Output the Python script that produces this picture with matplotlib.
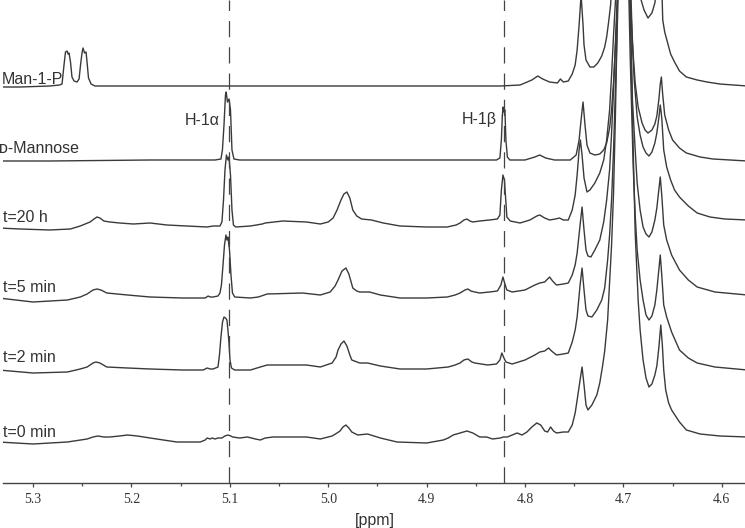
import matplotlib
matplotlib.use("Agg")
import matplotlib.pyplot as plt
from matplotlib.ticker import MultipleLocator, FormatStrFormatter

# 1H NMR traces: chemical shift (ppm) and
# intensity above each trace's own baseline (arbitrary units)

man1p_ppm = [5.335, 5.313, 5.283, 5.273, 5.2705, 5.2685, 5.2670, 5.2654, 5.2644, 5.2634,
             5.2619, 5.2604, 5.2583, 5.2553, 5.2532, 5.2517, 5.2502, 5.2492, 5.2476, 5.2461,
             5.2451, 5.2436, 5.2410, 5.2370, 5.181, 5.079, 4.978, 4.876, 4.825, 4.805,
             4.793, 4.787, 4.782, 4.775, 4.767, 4.764, 4.761, 4.756, 4.752, 4.749,
             4.747, 4.745, 4.743, 4.741, 4.740, 4.738, 4.734, 4.730, 4.726, 4.722,
             4.719, 4.717, 4.715, 4.713, 4.709, 4.698, 4.687, 4.682, 4.679, 4.675,
             4.671, 4.668, 4.665, 4.662, 4.660, 4.658, 4.655, 4.652, 4.648, 4.643,
             4.636, 4.625, 4.615, 4.602, 4.574]
man1p_int = [0, 0, 1, 2, 3, 22, 35, 36, 33, 34,
             25, 10, 6, 5, 8, 22, 34, 39, 34, 35,
             25, 9, 3, 1, 1, 1, 1, 1, 1, 2,
             7, 11, 8, 5, 4, 8, 5, 6, 13, 22,
             37, 62, 92, 62, 42, 27, 20, 20, 24, 31,
             40, 50, 65, 82, 147, 587, 127, 87, 77, 69,
             74, 84, 107, 137, 67, 55, 44, 33, 25, 16,
             10, 7, 5, 3, 1]

mannose_ppm = [5.335, 5.283, 5.181, 5.115, 5.109, 5.1075, 5.1059, 5.1044, 5.1037, 5.1024,
               5.1008, 5.0993, 5.0978, 5.0958, 5.090, 4.978, 4.846, 4.829, 4.8255, 4.8240,
               4.8230, 4.8222, 4.8214, 4.8204, 4.8194, 4.8179, 4.8154, 4.800, 4.790, 4.785,
               4.779, 4.770, 4.754, 4.748, 4.745, 4.743, 4.741, 4.739, 4.737, 4.734,
               4.729, 4.724, 4.720, 4.717, 4.714, 4.712, 4.710, 4.708, 4.706, 4.698,
               4.694, 4.692, 4.690, 4.688, 4.685, 4.681, 4.678, 4.675, 4.671, 4.668,
               4.666, 4.664, 4.6625, 4.6614, 4.660, 4.658, 4.654, 4.650, 4.643, 4.636,
               4.622, 4.609, 4.574]
mannose_int = [0, 0, 1, 1, 2, 11, 36, 66, 69, 59,
               62, 51, 11, 2, 1, 1, 1, 1, 3, 21,
               46, 54, 49, 51, 21, 4, 1, 1, 4, 6,
               3, 1, 1, 6, 21, 41, 59, 36, 16, 8,
               6, 7, 11, 18, 33, 51, 79, 116, 161, 661,
               181, 144, 106, 78, 54, 38, 31, 28, 31, 37,
               45, 61, 77, 84, 66, 46, 31, 21, 13, 8,
               4, 2, 0]

t20h_ppm = [5.335, 5.313, 5.283, 5.262, 5.252, 5.242, 5.238, 5.235, 5.232, 5.228,
            5.222, 5.212, 5.198, 5.181, 5.164, 5.144, 5.123, 5.117, 5.110, 5.108,
            5.1064, 5.1049, 5.1034, 5.1019, 5.1008, 5.0993, 5.0978, 5.0963, 5.094, 5.079,
            5.067, 5.064, 5.046, 5.022, 5.008, 5.000, 4.995, 4.991, 4.987, 4.984,
            4.981, 4.978, 4.975, 4.971, 4.966, 4.956, 4.944, 4.927, 4.900, 4.879,
            4.870, 4.866, 4.862, 4.859, 4.856, 4.853, 4.846, 4.836, 4.828, 4.8255,
            4.8240, 4.8224, 4.8209, 4.8199, 4.8184, 4.815, 4.805, 4.795, 4.788, 4.785,
            4.780, 4.775, 4.769, 4.765, 4.761, 4.756, 4.752, 4.749, 4.747, 4.745,
            4.7437, 4.742, 4.740, 4.737, 4.734, 4.729, 4.724, 4.720, 4.717, 4.714,
            4.712, 4.710, 4.708, 4.698, 4.693, 4.691, 4.689, 4.686, 4.683, 4.680,
            4.677, 4.674, 4.671, 4.668, 4.666, 4.664, 4.6625, 4.661, 4.659, 4.656,
            4.652, 4.648, 4.643, 4.634, 4.625, 4.612, 4.597, 4.574]
t20h_int = [0, -1, -2, -1, 2, 6, 9, 11, 10, 7,
            6, 5, 4, 5, 3, 2, 1, 2, 2, 6,
            28, 58, 73, 68, 71, 53, 18, 3, 1, 2,
            4, 5, 7, 6, 4, 6, 10, 18, 28, 34,
            36, 30, 18, 12, 9, 8, 5, 2, 1, 1,
            3, 5, 8, 9, 7, 6, 7, 8, 9, 13,
            38, 53, 48, 33, 11, 7, 5, 8, 12, 13,
            10, 8, 9, 10, 8, 8, 18, 33, 53, 78,
            88, 73, 50, 36, 38, 45, 55, 68, 88, 118,
            153, 193, 228, 728, 258, 188, 148, 111, 93, 81,
            75, 72, 76, 85, 95, 110, 123, 110, 78, 61,
            48, 38, 31, 22, 15, 11, 9, 8]

t5min_ppm = [5.335, 5.300, 5.265, 5.252, 5.245, 5.239, 5.235, 5.231, 5.225, 5.204,
             5.181, 5.148, 5.125, 5.122, 5.120, 5.117, 5.112, 5.110, 5.1085, 5.1069,
             5.1054, 5.1039, 5.1029, 5.1019, 5.1003, 5.0988, 5.0973, 5.095, 5.079, 5.071,
             5.062, 5.026, 5.008, 4.998, 4.993, 4.990, 4.986, 4.982, 4.979, 4.975,
             4.971, 4.968, 4.958, 4.947, 4.927, 4.900, 4.879, 4.871, 4.866, 4.861,
             4.858, 4.855, 4.851, 4.846, 4.836, 4.828, 4.8245, 4.8224, 4.8204, 4.8184,
             4.813, 4.800, 4.790, 4.785, 4.780, 4.775, 4.772, 4.768, 4.761, 4.756,
             4.752, 4.749, 4.747, 4.744, 4.742, 4.740, 4.738, 4.736, 4.733, 4.729,
             4.724, 4.720, 4.717, 4.714, 4.712, 4.710, 4.708, 4.7062, 4.698, 4.694,
             4.692, 4.6908, 4.688, 4.686, 4.683, 4.680, 4.677, 4.674, 4.671, 4.668,
             4.666, 4.664, 4.6625, 4.661, 4.659, 4.656, 4.651, 4.643, 4.634, 4.625,
             4.607, 4.574]
t5min_int = [0, -4, -2, 1, 4, 8, 9, 8, 5, 3,
             1, 0, 0, 2, 1, 1, 2, 5, 13, 33,
             53, 63, 58, 61, 48, 23, 5, 1, 0, 1,
             4, 5, 3, 6, 12, 18, 27, 30, 24, 10,
             7, 6, 6, 3, 0, 0, 1, 3, 5, 8,
             9, 7, 6, 5, 6, 7, 13, 21, 14, 8,
             6, 8, 13, 15, 16, 21, 17, 13, 14, 15,
             23, 33, 45, 73, 91, 68, 48, 42, 41, 48,
             58, 76, 98, 128, 165, 208, 258, 298, 798, 318,
             248, 198, 148, 115, 88, 71, 64, 61, 66, 78,
             90, 108, 121, 103, 73, 58, 43, 28, 18, 11,
             6, 3]

t2min_ppm = [5.335, 5.300, 5.265, 5.252, 5.245, 5.239, 5.236, 5.232, 5.225, 5.204,
             5.181, 5.148, 5.127, 5.123, 5.120, 5.117, 5.112, 5.1105, 5.1090, 5.1074,
             5.1059, 5.1044, 5.1029, 5.1019, 5.1008, 5.0998, 5.0983, 5.095, 5.079, 5.069,
             5.062, 5.022, 5.008, 4.996, 4.992, 4.990, 4.987, 4.984, 4.981, 4.978,
             4.976, 4.968, 4.960, 4.947, 4.927, 4.900, 4.878, 4.871, 4.866, 4.862,
             4.858, 4.854, 4.851, 4.838, 4.829, 4.8255, 4.8235, 4.8214, 4.8194, 4.813,
             4.800, 4.790, 4.785, 4.780, 4.776, 4.773, 4.768, 4.761, 4.756, 4.752,
             4.749, 4.747, 4.744, 4.742, 4.740, 4.738, 4.736, 4.732, 4.727, 4.722,
             4.719, 4.716, 4.714, 4.712, 4.710, 4.708, 4.706, 4.705, 4.698, 4.695,
             4.693, 4.690, 4.688, 4.686, 4.683, 4.680, 4.677, 4.674, 4.671, 4.668,
             4.666, 4.664, 4.6625, 4.661, 4.659, 4.656, 4.651, 4.643, 4.634, 4.625,
             4.607, 4.574]
t2min_int = [0, -3, -2, 1, 3, 7, 8, 7, 3, 2,
             1, 0, 0, 2, 1, 1, 3, 15, 33, 48,
             53, 52, 50, 40, 27, 10, 2, 0, 0, 3,
             5, 5, 3, 7, 13, 20, 26, 29, 24, 15,
             10, 7, 7, 4, 1, 1, 3, 5, 7, 10,
             11, 8, 7, 5, 6, 10, 17, 12, 8, 6,
             10, 15, 18, 19, 22, 19, 15, 16, 17, 28,
             40, 53, 85, 102, 80, 60, 54, 53, 60, 70,
             82, 110, 135, 170, 220, 285, 350, 390, 870, 400,
             310, 203, 155, 120, 90, 70, 55, 50, 54, 65,
             80, 100, 115, 95, 65, 53, 38, 20, 12, 7,
             3, 0]

t0min_ppm = [5.335, 5.300, 5.265, 5.245, 5.239, 5.234, 5.228, 5.222, 5.212, 5.204,
             5.194, 5.181, 5.154, 5.130, 5.125, 5.123, 5.120, 5.118, 5.115, 5.112,
             5.108, 5.105, 5.102, 5.099, 5.097, 5.090, 5.082, 5.074, 5.069, 5.064,
             5.056, 5.022, 5.008, 4.996, 4.991, 4.988, 4.985, 4.982, 4.979, 4.976,
             4.970, 4.960, 4.947, 4.930, 4.900, 4.883, 4.878, 4.873, 4.866, 4.859,
             4.856, 4.853, 4.846, 4.839, 4.833, 4.825, 4.822, 4.818, 4.813, 4.808,
             4.803, 4.798, 4.793, 4.788, 4.784, 4.780, 4.777, 4.774, 4.771, 4.768,
             4.761, 4.756, 4.752, 4.749, 4.747, 4.744, 4.742, 4.740, 4.738, 4.736,
             4.732, 4.727, 4.724, 4.721, 4.719, 4.716, 4.714, 4.712, 4.710, 4.7082,
             4.7066, 4.706, 4.700, 4.694, 4.692, 4.690, 4.688, 4.685, 4.683, 4.680,
             4.677, 4.674, 4.671, 4.668, 4.666, 4.664, 4.662, 4.6604, 4.659, 4.657,
             4.654, 4.651, 4.643, 4.636, 4.622, 4.602, 4.574]
t0min_int = [0, -2, 0, 3, 5, 6, 5, 5, 6, 7,
             6, 4, 0, 0, 2, 4, 3, 4, 3, 4,
             4, 6, 7, 6, 5, 4, 5, 3, 2, 4,
             5, 5, 3, 6, 9, 11, 15, 17, 14, 10,
             7, 8, 4, 0, -1, 2, 4, 7, 9, 11,
             10, 9, 5, 5, 3, 4, 5, 5, 7, 9,
             7, 10, 15, 19, 17, 11, 10, 15, 11, 9,
             10, 10, 17, 29, 42, 62, 75, 57, 37, 32,
             37, 47, 59, 77, 91, 122, 160, 197, 249, 322,
             402, 442, 842, 472, 382, 292, 209, 142, 112, 82,
             64, 55, 58, 67, 76, 94, 117, 97, 72, 52,
             39, 32, 20, 12, 8, 6, 5]

labels = ["Man-1-P", "\u1d05-Mannose", "t=20 h", "t=5 min", "t=2 min", "t=0 min"]
offsets = [396, 322, 255, 185, 113, 41]  # vertical stacking of the traces
ticks = [5.3, 5.2, 5.1, 5.0, 4.9, 4.8, 4.7, 4.6]
marker_ppm = [5.1008, 4.8213]  # H-1alpha / H-1beta guide lines
marker_text = ["H-1\u03b1", "H-1\u03b2"]

traces = [
    (man1p_ppm, man1p_int),
    (mannose_ppm, mannose_int),
    (t20h_ppm, t20h_int),
    (t5min_ppm, t5min_int),
    (t2min_ppm, t2min_int),
    (t0min_ppm, t0min_int),
]

W, H = 745, 528
fig = plt.figure(figsize=(W / 100, H / 100), dpi=100)
ax = fig.add_axes([3 / W, 45 / H, 1 - 3 / W, 1 - 45 / H])

line_col = "#3a3a3a"
for (x, y), off in zip(traces, offsets):
    ax.plot(x, [v + off for v in y], color=line_col, lw=1.0, solid_joinstyle="round")

for p in marker_ppm:
    ax.axvline(p, color="#444444", lw=0.9, dashes=(13, 8))

ax.set_xlim(5.3305, 4.5764)
ax.set_ylim(0, 483)

for s in ["top", "left", "right"]:
    ax.spines[s].set_visible(False)
ax.spines["bottom"].set_color("#444444")
ax.spines["bottom"].set_linewidth(1.0)
ax.set_yticks([])
ax.set_xticks(ticks)
ax.xaxis.set_major_formatter(FormatStrFormatter("%.1f"))
ax.xaxis.set_minor_locator(MultipleLocator(0.05))
ax.tick_params(axis="x", which="major", length=3, width=0.9, color="#444444", pad=4,
               labelsize=10, labelcolor="#333333")
ax.tick_params(axis="x", which="minor", length=2, width=0.9, color="#444444")
for t in ax.get_xticklabels():
    t.set_family("Liberation Serif")

sans = ["Liberation Sans", "DejaVu Sans"]


def px_text(x, y, s, **kw):
    fig.text(x / W, 1 - y / H, s, family=sans, fontsize=11.5, color="#333333", **kw)


label_pos = [(2, 84), (-1, 153), (3, 222), (3, 292), (3, 362), (3, 437)]
for (x, y), s in zip(label_pos, labels):
    px_text(x, y, s, va="baseline", ha="left")

px_text(185, 125, marker_text[0], va="baseline", ha="left")
px_text(462, 124, marker_text[1], va="baseline", ha="left")
px_text(375, 520, "[ppm]", va="center", ha="center")

fig.savefig("out.png", dpi=100)
